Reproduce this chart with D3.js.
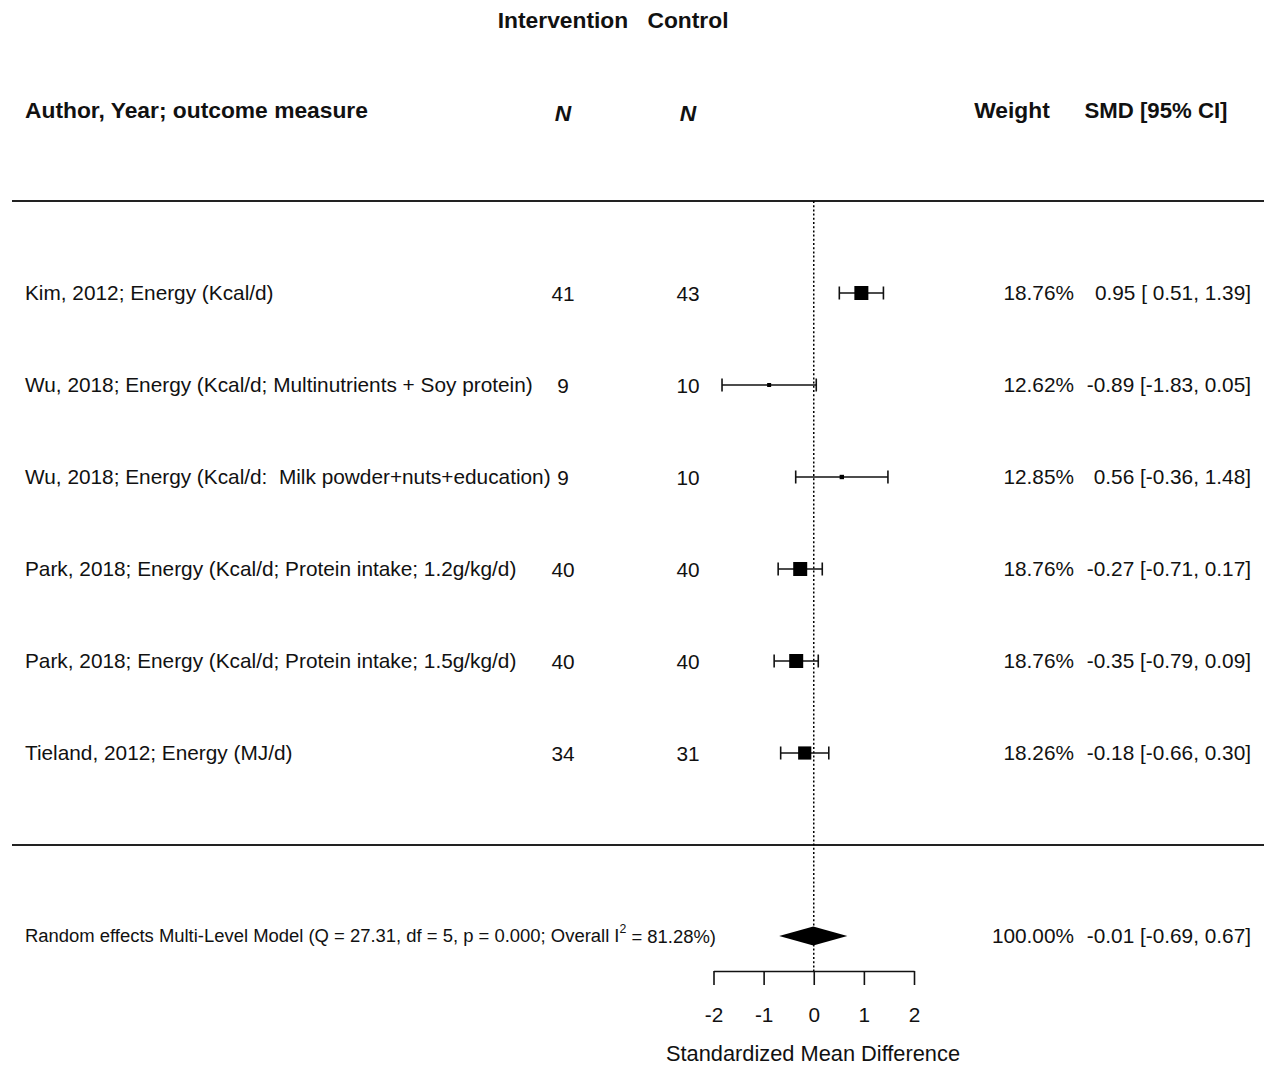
<!DOCTYPE html>
<html>
<head>
<meta charset="utf-8">
<script src="https://cdn.jsdelivr.net/npm/d3@7"></script>
<style>
  html, body { margin: 0; padding: 0; background: #fff; }
  svg text { font-family: "Liberation Sans", Arial, sans-serif; fill: #111; white-space: pre; }
</style>
</head>
<body>
<svg id="chart" width="1264" height="1066"></svg>
<script>
// Study rows of the forest plot
const studies = [
  "Kim, 2012; Energy (Kcal/d)",
  "Wu, 2018; Energy (Kcal/d; Multinutrients + Soy protein)",
  "Wu, 2018; Energy (Kcal/d:  Milk powder+nuts+education)",
  "Park, 2018; Energy (Kcal/d; Protein intake; 1.2g/kg/d)",
  "Park, 2018; Energy (Kcal/d; Protein intake; 1.5g/kg/d)",
  "Tieland, 2012; Energy (MJ/d)"
];
const nIntervention = [41, 9, 9, 40, 40, 34];
const nControl = [43, 10, 10, 40, 40, 31];
const weights = [18.76, 12.62, 12.85, 18.76, 18.76, 18.26];
const smd = [0.95, -0.89, 0.56, -0.27, -0.35, -0.18];
const ciLow = [0.51, -1.83, -0.36, -0.71, -0.79, -0.66];
const ciHigh = [1.39, 0.05, 1.48, 0.17, 0.09, 0.30];

// Pooled estimate
const pooled = { weight: 100.00, est: -0.01, lo: -0.69, hi: 0.67 };
const pooledLabel = "Random effects Multi-Level Model (Q = 27.31, df = 5, p = 0.000; Overall I";
const pooledLabelTail = " = 81.28%)";

const xTicks = [-2, -1, 0, 1, 2];

const svg = d3.select("#chart");

const x = d3.scaleLinear().domain([-2, 2]).range([713.5, 914]);
const y = d3.scalePoint().domain(d3.range(studies.length)).range([293, 753]);
const boxSize = d3.scaleLinear().domain([d3.min(weights), d3.max(weights)]).range([4, 14]);

const yPooled = 936, yAxis = 971, yTop = 201, yBottom = 845;
const bodySize = 20.8;

// Plain hyphen for negatives, as in the printed table
const fmt2 = v => d3.format(".2f")(v).replace("\u2212", "-");
const fmtCI = v => (v >= 0 ? " " : "") + fmt2(v);
const ciText = (e, l, h) => `${fmt2(e)} [${fmtCI(l)}, ${fmt2(h)}]`;

// Column headers
const header = svg.append("g").attr("font-weight", "bold").attr("font-size", 22.8);
header.append("text").attr("x", 563).attr("y", 20).attr("dy", "0.35em").attr("text-anchor", "middle").text("Intervention");
header.append("text").attr("x", 688).attr("y", 20).attr("dy", "0.35em").attr("text-anchor", "middle").text("Control");
header.append("text").attr("x", 25).attr("y", 110).attr("dy", "0.35em").text("Author, Year; outcome measure");
header.append("text").attr("x", 563).attr("y", 113).attr("dy", "0.35em").attr("text-anchor", "middle").attr("font-style", "italic").text("N");
header.append("text").attr("x", 688).attr("y", 113).attr("dy", "0.35em").attr("text-anchor", "middle").attr("font-style", "italic").text("N");
header.append("text").attr("x", 1012).attr("y", 110).attr("dy", "0.35em").attr("text-anchor", "middle").text("Weight");
header.append("text").attr("x", 1156).attr("y", 110).attr("dy", "0.35em").attr("text-anchor", "middle").attr("font-size", 22.2).text("SMD [95% CI]");

// Separator rules
svg.selectAll("line.rule").data([yTop, yBottom]).join("line")
  .attr("class", "rule")
  .attr("x1", 12).attr("x2", 1264)
  .attr("y1", d => d).attr("y2", d => d)
  .attr("stroke", "#222").attr("stroke-width", 1.8);

// Zero reference line
svg.append("line")
  .attr("x1", x(0)).attr("x2", x(0))
  .attr("y1", yTop).attr("y2", yAxis)
  .attr("stroke", "#000").attr("stroke-width", 1.5)
  .attr("stroke-dasharray", "2,2.2");

// Study rows
const rows = svg.append("g").selectAll("g").data(studies).join("g")
  .attr("transform", (d, i) => `translate(0,${y(i)})`);

rows.append("text").attr("x", 25).attr("dy", "0.35em").attr("font-size", bodySize).text(d => d);
rows.append("text").attr("x", 563).attr("dy", "0.4em").attr("font-size", bodySize).attr("text-anchor", "middle").text((d, i) => nIntervention[i]);
rows.append("text").attr("x", 688).attr("dy", "0.4em").attr("font-size", bodySize).attr("text-anchor", "middle").text((d, i) => nControl[i]);
rows.append("text").attr("x", 1074).attr("dy", "0.35em").attr("font-size", bodySize).attr("text-anchor", "end").text((d, i) => fmt2(weights[i]) + "%");
rows.append("text").attr("x", 1251).attr("dy", "0.35em").attr("font-size", bodySize).attr("text-anchor", "end")
  .text((d, i) => ciText(smd[i], ciLow[i], ciHigh[i]));

// Confidence intervals with end caps
rows.append("line")
  .attr("x1", (d, i) => x(ciLow[i])).attr("x2", (d, i) => x(ciHigh[i]))
  .attr("stroke", "#111").attr("stroke-width", 1.6);
rows.append("line")
  .attr("x1", (d, i) => x(ciLow[i])).attr("x2", (d, i) => x(ciLow[i]))
  .attr("y1", -6.5).attr("y2", 6.5)
  .attr("stroke", "#111").attr("stroke-width", 1.6);
rows.append("line")
  .attr("x1", (d, i) => x(ciHigh[i])).attr("x2", (d, i) => x(ciHigh[i]))
  .attr("y1", -6.5).attr("y2", 6.5)
  .attr("stroke", "#111").attr("stroke-width", 1.6);

// Point estimates, sized by weight
rows.append("rect")
  .attr("x", (d, i) => x(smd[i]) - boxSize(weights[i]) / 2)
  .attr("y", (d, i) => -boxSize(weights[i]) / 2)
  .attr("width", (d, i) => boxSize(weights[i]))
  .attr("height", (d, i) => boxSize(weights[i]))
  .attr("fill", "#000");

// Pooled row
const pooledText = svg.append("text").attr("x", 25).attr("y", yPooled).attr("dy", "0.35em")
  .attr("font-size", 18).attr("textLength", 691).attr("lengthAdjust", "spacingAndGlyphs");
pooledText.append("tspan").text(pooledLabel);
pooledText.append("tspan").attr("font-size", 12).attr("dy", "-0.8em").text("2");
pooledText.append("tspan").attr("dy", "0.55em").text(pooledLabelTail);

svg.append("text").attr("x", 1074).attr("y", yPooled).attr("dy", "0.35em").attr("font-size", bodySize)
  .attr("text-anchor", "end").text(fmt2(pooled.weight) + "%");
svg.append("text").attr("x", 1251).attr("y", yPooled).attr("dy", "0.35em").attr("font-size", bodySize)
  .attr("text-anchor", "end").text(ciText(pooled.est, pooled.lo, pooled.hi));

svg.append("path")
  .attr("d", d3.line()([
    [x(pooled.lo), yPooled], [x(pooled.est), yPooled - 9.5],
    [x(pooled.hi), yPooled], [x(pooled.est), yPooled + 9.5]
  ]) + "Z")
  .attr("fill", "#000");

// Axis
const axis = svg.append("g").attr("transform", `translate(0,${yAxis})`)
  .call(d3.axisBottom(x).tickValues(xTicks).tickSizeInner(14).tickSizeOuter(0).tickPadding(22).tickFormat(d => fmt2(d).replace(".00", "")));
axis.select(".domain").attr("stroke", "#111").attr("stroke-width", 1.6);
axis.selectAll(".tick line").attr("stroke", "#111").attr("stroke-width", 1.6);
axis.selectAll(".tick text").attr("font-size", bodySize).attr("font-family", "Liberation Sans, Arial, sans-serif").attr("fill", "#111");

svg.append("text").attr("x", 813).attr("y", 1053).attr("dy", "0.35em").attr("font-size", 21.8)
  .attr("text-anchor", "middle").text("Standardized Mean Difference");
</script>
</body>
</html>
